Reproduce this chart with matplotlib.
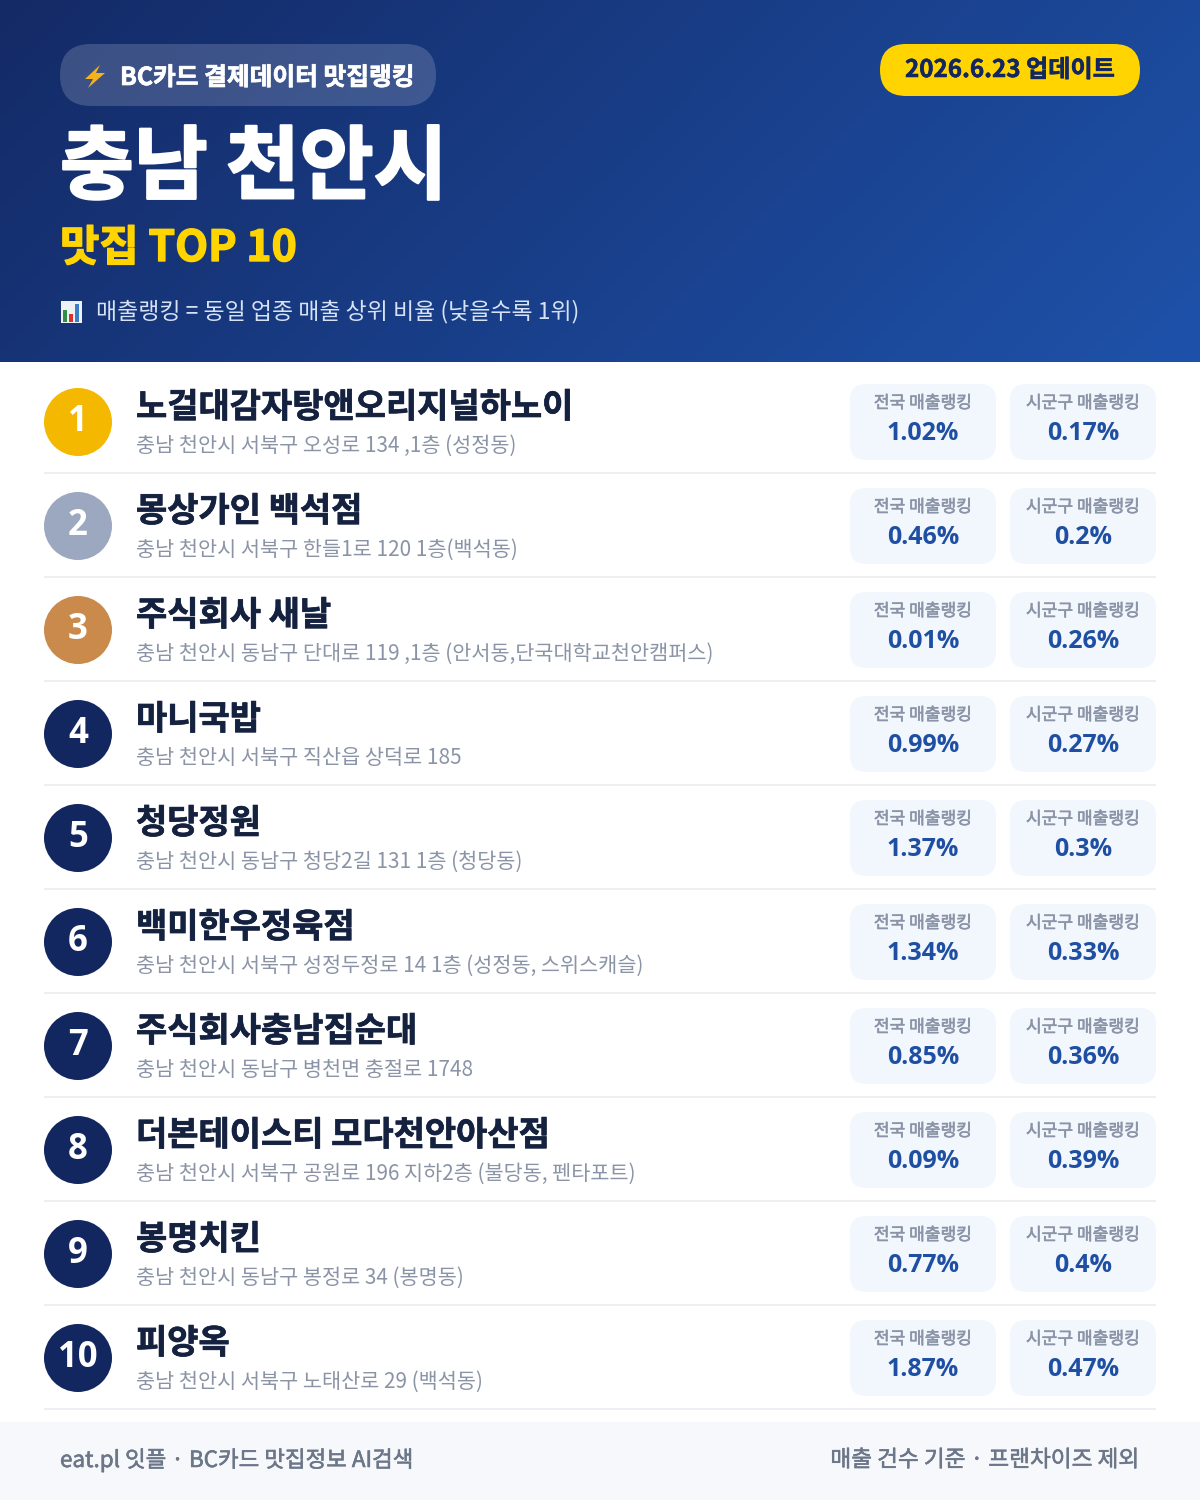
import numpy as np
import matplotlib
matplotlib.use('Agg')
import matplotlib.pyplot as plt
import matplotlib.patheffects as pe
from matplotlib.patches import FancyBboxPatch, Circle, Polygon, Rectangle

plt.rcParams['font.family'] = ['Noto Sans CJK KR', 'DejaVu Sans']

names = ['노걸대감자탕앤오리지널하노이', '몽상가인 백석점', '주식회사 새날', '마니국밥', '청당정원',
         '백미한우정육점', '주식회사충남집순대', '더본테이스티 모다천안아산점', '봉명치킨', '피양옥']
addresses = ['충남 천안시 서북구 오성로 134 ,1층 (성정동)',
             '충남 천안시 서북구 한들1로 120 1층(백석동)',
             '충남 천안시 동남구 단대로 119 ,1층 (안서동,단국대학교천안캠퍼스)',
             '충남 천안시 서북구 직산읍 상덕로 185',
             '충남 천안시 동남구 청당2길 131 1층 (청당동)',
             '충남 천안시 서북구 성정두정로 14 1층 (성정동, 스위스캐슬)',
             '충남 천안시 동남구 병천면 충절로 1748',
             '충남 천안시 서북구 공원로 196 지하2층 (불당동, 펜타포트)',
             '충남 천안시 동남구 봉정로 34 (봉명동)',
             '충남 천안시 서북구 노태산로 29 (백석동)']
national = ['1.02%', '0.46%', '0.01%', '0.99%', '1.37%', '1.34%', '0.85%', '0.09%', '0.77%', '1.87%']
local = ['0.17%', '0.2%', '0.26%', '0.27%', '0.3%', '0.33%', '0.36%', '0.39%', '0.4%', '0.47%']
badge_colors = ['#f4b800', '#9ba8bf', '#c98a4b'] + ['#12265f'] * 7


def rbox(ax, x, y, w, h, r, **kw):
    ax.add_patch(FancyBboxPatch((x + r, y + r), w - 2 * r, h - 2 * r,
                                boxstyle='round,pad=%f,rounding_size=%f' % (r, r), lw=0, **kw))


def heavy(t, w):
    # fake a heavier weight, the font only ships regular and bold
    t.set_path_effects([pe.withStroke(linewidth=w, foreground=t.get_color())])
    return t


fig = plt.figure(figsize=(12, 15), dpi=100, facecolor='white')
ax = fig.add_axes([0, 0, 1, 1])
ax.set_xlim(0, 1200)
ax.set_ylim(1500, 0)
ax.axis('off')

# header gradient
gx, gy = np.meshgrid(np.linspace(0, 1, 300), np.linspace(0, 1, 90))
g = ((gx * 1200 + gy * 362) / 1562)[..., None]
c0 = np.array([0x14, 0x2a, 0x66]) / 255
c1 = np.array([0x1e, 0x52, 0xaa]) / 255
ax.imshow(c0 + (c1 - c0) * g, extent=(0, 1200, 362, 0), aspect='auto', zorder=0)
ax.set_xlim(0, 1200)
ax.set_ylim(1500, 0)

# header pills
rbox(ax, 60, 44, 376, 62, 31, fc='white', alpha=0.17, zorder=1)
ax.add_patch(Polygon([(100, 65), (85, 79), (93, 79), (88, 88), (105, 73), (96, 73)], fc='#f5b21f', zorder=2))
heavy(ax.text(120, 78, 'BC카드 결제데이터 맛집랭킹', fontsize=17.8, fontweight='bold', color='white', va='center', zorder=3), 0.5)
rbox(ax, 880, 44, 260, 52, 26, fc='#ffd400', zorder=1)
heavy(ax.text(1010, 70, '2026.6.23 업데이트', fontsize=17.4, fontweight='bold', color='#12265f', ha='center', va='center', zorder=3), 0.4)

heavy(ax.text(60, 169, '충남 천안시', fontsize=57.8, fontweight='bold', color='white', va='center', zorder=3), 1.6)
heavy(ax.text(60, 248, '맛집 TOP 10', fontsize=30.8, fontweight='bold', color='#ffd400', va='center', zorder=3), 1.0)

# chart emoji
ax.add_patch(Rectangle((61, 301), 21, 22, fc='#eef2f7', zorder=2))
ax.add_patch(Rectangle((63, 310), 4, 12, fc='#2f8f46', zorder=3))
ax.add_patch(Rectangle((69, 314), 4, 8, fc='#d8342c', zorder=3))
ax.add_patch(Rectangle((75, 304), 4, 18, fc='#3b7fc4', zorder=3))
ax.text(96, 312, '매출랭킹 = 동일 업종 매출 상위 비율 (낮을수록 1위)', fontsize=16.5, color='#d6e2f5', va='center', zorder=3)

# rows
for i, name in enumerate(names):
    top = 104 * i
    ax.add_patch(Circle((78, 422 + top), 34, fc=badge_colors[i], lw=0, zorder=2))
    ax.text(78, 422 + top, str(i + 1), fontsize=25, family='Open Sans', fontweight='bold', color='white', ha='center', va='center', zorder=3)
    heavy(ax.text(136, 407 + top, name, fontsize=24.45, fontweight='bold', color='#14213f', va='center', zorder=3), 0.5)
    ax.text(136, 446 + top, addresses[i], fontsize=14.95, color='#8a94a6', va='center', zorder=3)
    rbox(ax, 850, 384 + top, 146, 76, 16, fc='#f2f6fd', zorder=1)
    rbox(ax, 1010, 384 + top, 146, 76, 16, fc='#f2f6fd', zorder=1)
    heavy(ax.text(923, 403 + top, '전국 매출랭킹', fontsize=12.3, color='#8a94a6', ha='center', va='center', zorder=3), 0.4)
    heavy(ax.text(1083, 403 + top, '시군구 매출랭킹', fontsize=12.3, color='#8a94a6', ha='center', va='center', zorder=3), 0.4)
    ax.text(923, 433 + top, national[i], fontsize=18, family='Open Sans', fontweight='bold', color='#1e4fa3', ha='center', va='center', zorder=3)
    ax.text(1083, 433 + top, local[i], fontsize=18, family='Open Sans', fontweight='bold', color='#1e4fa3', ha='center', va='center', zorder=3)
    ax.add_patch(Rectangle((44, 472 + top), 1112, 2, fc='#edeff2', lw=0, zorder=1))

# footer
ax.add_patch(Rectangle((0, 1422), 1200, 78, fc='#f6f8fb', lw=0, zorder=1))
heavy(ax.text(60, 1460, 'eat.pl 잇플 · BC카드 맛집정보 AI검색', fontsize=16.15, color='#6b7688', va='center', zorder=3), 0.4)
heavy(ax.text(1140, 1460, '매출 건수 기준 · 프랜차이즈 제외', fontsize=16.3, color='#6b7688', ha='right', va='center', zorder=3), 0.4)

fig.savefig('out.png', dpi=100)
